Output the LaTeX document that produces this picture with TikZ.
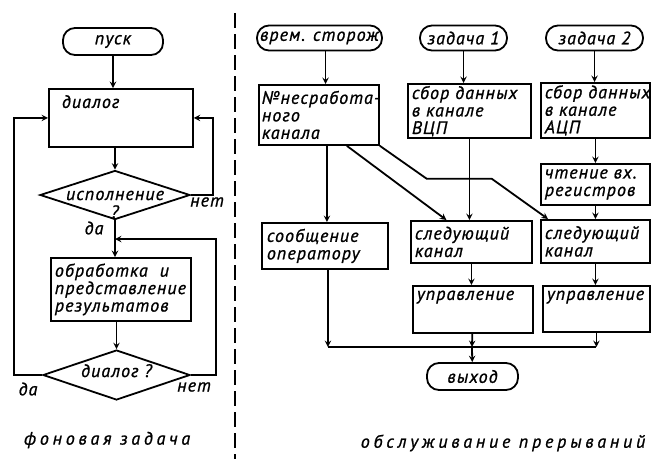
\documentclass[tikz,border=0pt]{standalone}
\usepackage{fontspec}
\setmainfont{PT Sans}
\newfontfamily\hand[LetterSpace=6, FakeBold=1]{PT Sans}
\newfontfamily\handwide[LetterSpace=21, FakeBold=1]{PT Sans}
\newcommand{\handtext}{\hand\itshape\fontsize{18}{17.5}\selectfont}
\newcommand{\widetext}{\handwide\itshape\fontsize{18}{19}\selectfont}
\usetikzlibrary{shapes.geometric, arrows}
\tikzstyle{startstop} = [rectangle, rounded corners=12pt, 
minimum height=25pt,
inner sep=0pt,
text centered, 
draw=black, line width=1.8pt,
font=\handtext]
\tikzstyle{process} = [rectangle, anchor=north west,
inner xsep=5pt, inner ysep=2pt,
align=left,
draw=black, line width=1.8pt,
font=\handtext]
\tikzstyle{decision} = [diamond, aspect=3,
inner sep=0pt,
text depth=0pt,
draw=black, line width=1.8pt,
font=\handtext]
\tikzstyle{answer} = [font=\handtext, inner sep=0pt]
\tikzstyle{tasklabel} = [font=\widetext, inner sep=0pt]
\tikzstyle{arrow} = [line width=1.8pt,->,>=stealth]
\tikzstyle{link} = [line width=1.8pt]
\tikzstyle{divider} = [line width=1.8pt, dash pattern=on 15pt off 6pt]

\begin{document}
\begin{tikzpicture}[x=1pt, y=-1pt]
	\useasboundingbox (0,0) rectangle (651,459);
	% background task
	\node (start) [startstop, minimum width=100pt, minimum height=27pt] at (113,41.5) {пуск};
	\node (dialog) [process, minimum width=144pt, text width=118pt, inner xsep=13pt, text height=17pt, text depth=37pt] at (48,88) {диалог};
	\node (dec1) [decision, minimum width=150pt, minimum height=49pt, text height=10pt] at (115,195) {\begin{tabular}[t]{@{}c@{}}исполнение\\?\end{tabular}};
	\node (proc) [process, minimum width=140pt, minimum height=63pt, text width=132pt, inner xsep=4pt] at (50,257) {обработка\ \ и\\представление\\результатов};
	\node (dec2) [decision, minimum width=147pt, minimum height=50pt, text height=4pt] at (116.5,375) {диалог ?};
	\node (yes1) [answer] at (94,228) {да};
	\node (no1) [answer] at (207,202) {нет};
	\node (yes2) [answer] at (28,389) {да};
	\node (no2) [answer] at (194,387) {нет};
	\node (bgtask) [tasklabel] at (107,440) {фоновая задача};
	\coordinate (jn1) at (115,239);
	\draw [arrow] (start) -- (start |- dialog.north);
	\draw [arrow] (dec1 |- dialog.south) -- (dec1);
	\draw [arrow] (dec1.east) -- ++(22,0) |- (dialog.east);
	\draw [link] (dec1) -- (jn1);
	\draw [arrow] (jn1) -- (jn1 |- proc.north);
	\draw [arrow] (proc.south -| dec2) -- (dec2);
	\draw [arrow] (dec2.east) -- ++(25,0) |- (jn1);
	\draw [arrow] (dec2.west) -- ++(-28,0) |- (dialog.west);
	\draw [divider] (235,13) -- (235,459);
	% interrupt service
	\node (vrem) [startstop, minimum width=125pt] at (319.5,38) {врем. сторож};
	\node (z1) [startstop, minimum width=87pt] at (463.5,38) {задача 1};
	\node (z2) [startstop, minimum width=97pt] at (594.5,38) {задача 2};
	\node (nm) [process, minimum width=120pt, minimum height=60pt, text width=114pt, inner xsep=3pt] at (258,84) {\mbox{№несработа-}\\ного\\канала};
	\node (vcp) [process, minimum width=123pt, minimum height=54pt, text width=115pt, inner xsep=4pt] at (407,83) {сбор~данных\\в канале\\ВЦП};
	\node (acp) [process, minimum width=109pt, minimum height=55pt, text width=101pt, inner xsep=4pt] at (540,82) {сбор~данных\\в канале\\АЦП};
	\node (read) [process, minimum width=109pt, minimum height=41pt, text width=101pt, inner xsep=4pt] at (540,163) {чтение~вх.\\регистров};
	\node (msg) [process, minimum width=126pt, minimum height=46pt, text width=116pt] at (261,222) {сообщение\\оператору};
	\node (next1) [process, minimum width=121pt, minimum height=42pt, text width=113pt, inner xsep=4pt] at (410,220) {следующий\\канал};
	\node (next2) [process, minimum width=109pt, minimum height=43pt, text width=101pt, inner xsep=4pt] at (540,219) {следующий\\канал};
	\node (ctl1) [process, minimum width=120pt, text width=112pt, inner xsep=4pt, text height=12pt, text depth=31pt] at (412,285) {управление};
	\node (ctl2) [process, minimum width=107pt, text width=99pt, inner xsep=4pt, text height=12pt, text depth=30pt] at (542,285) {управление};
	\node (out) [startstop, minimum width=91pt, minimum height=27pt] at (472.5,376.5) {выход};
	\node (irq) [tasklabel] at (503,443) {обслуживание прерываний};
	\coordinate (jn2) at (472,347);
	\draw [arrow] ([xshift=6pt]vrem.south) -- ([xshift=6pt]vrem.south |- nm.north);
	\draw [arrow] ([xshift=8pt]nm.south) -- ([xshift=8pt]nm.south |- msg.north);
	\draw [arrow] ([xshift=-33pt]nm.south east) -- ([xshift=-25pt]next1.north);
	\draw [arrow] (nm.south east) -- ++(47,33) -- ++(65,0) -- ([xshift=8pt]next2.north west);
	\draw [arrow] (z1) -- (z1 |- vcp.north);
	\draw [arrow] (vcp) -- (vcp |- next1.north);
	\draw [arrow] (next1) -- (next1 |- ctl1.north);
	\draw [arrow] (z2) -- (z2 |- acp.north);
	\draw [arrow] (acp) -- (acp |- read.north);
	\draw [arrow] (read) -- (read |- next2.north);
	\draw [arrow] (next2) -- (next2 |- ctl2.north);
	\draw [arrow] ([xshift=3pt]msg.south) -- ([xshift=3pt]msg.south |- jn2);
	\draw [link] ([xshift=3pt]msg.south |- jn2) -- (ctl2.south |- jn2);
	\draw [arrow] (ctl2) -- (ctl2 |- jn2);
	\draw [arrow] (ctl1) -- (jn2);
	\draw [arrow] (jn2) -- (out);
\end{tikzpicture}
\end{document}
